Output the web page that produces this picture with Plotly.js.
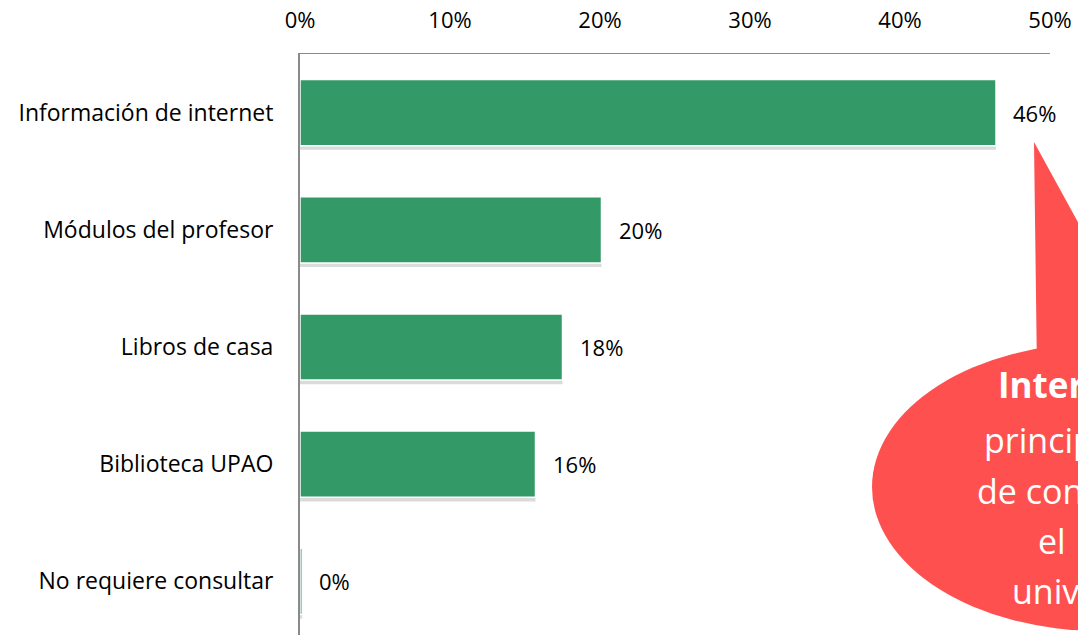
<!DOCTYPE html>
<html>
<head>
<meta charset="utf-8">
<script src="https://cdn.plot.ly/plotly-3.0.1.min.js"></script>
<style>
html,body{margin:0;padding:0;overflow:hidden;background:#fff;}
#chart{width:1078px;height:646px;}
</style>
</head>
<body>
<div id="chart"></div>
<script>
// ---- data ----
const categories = ["Información de internet", "Módulos del profesor", "Libros de casa", "Biblioteca UPAO", "No requiere consultar"];
const values = [46.4, 20.1, 17.5, 15.7, 0.15];
const tickValues = [0, 10, 20, 30, 40, 50];
const tickLabels = ["0%", "10%", "20%", "30%", "40%", "50%"];
const calloutLines = ["<b>Internet es la</b>", "principal fuente", "de consulta para", "el\u00a0\u00a0estudiante", "universitario"];

// ---- layout geometry ----
const W = 1078, H = 646;
const M = {l: 300, r: 28, t: 54, b: 6};
const plotW = W - M.l - M.r, plotH = H - M.t - M.b;
const px = x => (x - M.l) / plotW;
const py = y => 1 - (y - M.t) / plotH;

const FONT = "'Open Sans', 'Noto Sans', sans-serif";
const barWidth = 0.565;

const shadow = {
  type: 'bar', orientation: 'h',
  x: values, y: categories,
  width: barWidth, offset: -barWidth / 2 + 0.035,
  marker: {color: 'rgba(0,0,0,0.14)', line: {width: 0}},
  hoverinfo: 'skip', showlegend: false
};
const bars = {
  type: 'bar', orientation: 'h',
  x: values, y: categories,
  width: barWidth, offset: -barWidth / 2,
  marker: {color: '#339966', line: {color: '#ffffff', width: 1.5}},
  showlegend: false
};

const annotations = categories.map((c, i) => ({
  x: values[i], y: c, xref: 'x', yref: 'y',
  text: Math.round(values[i]) + '%',
  showarrow: false, xanchor: 'left', yanchor: 'middle', xshift: 15,
  font: {family: FONT, size: 22, color: '#000'}
}));

// callout text (left edge and baseline in pixels)
const lineStartPx = [996, 982, 975, 1036, 1010];
const lineBasePx = [397, 452, 503, 553, 603];
calloutLines.forEach((t, i) => {
  const size = i === 0 ? 35 : 34;
  annotations.push({
    x: px(lineStartPx[i]), y: py(lineBasePx[i] - 0.36 * size), xref: 'paper', yref: 'paper',
    text: t, showarrow: false, xanchor: 'left', yanchor: 'middle',
    font: {family: FONT, size: size, color: '#ffffff'}
  });
});

const CALLOUT = '#FF5050';
const shapes = [
  {type: 'circle', xref: 'paper', yref: 'paper',
   x0: px(872), x1: px(1328), y0: py(343), y1: py(631),
   fillcolor: CALLOUT, line: {width: 0}, layer: 'above'},
  {type: 'path', xref: 'paper', yref: 'paper',
   path: `M ${px(1034)} ${py(142)} L ${px(1037)} ${py(372)} L ${px(1160)} ${py(372)} Z`,
   fillcolor: CALLOUT, line: {width: 0}, layer: 'above'}
];

const layout = {
  width: W, height: H,
  margin: M,
  paper_bgcolor: '#fff', plot_bgcolor: '#fff',
  barmode: 'overlay',
  font: {family: FONT, size: 22, color: '#000'},
  xaxis: {
    side: 'top', range: [0, 50], tickmode: 'array', tickvals: tickValues, ticktext: tickLabels,
    showgrid: false, zeroline: false,
    showline: true, linecolor: '#8a8a8a', linewidth: 1.5,
    ticks: 'outside', ticklen: 16, tickcolor: 'rgba(0,0,0,0)',
    tickfont: {family: FONT, size: 22, color: '#000'},
    fixedrange: true
  },
  yaxis: {
    type: 'category', categoryorder: 'array', categoryarray: categories,
    autorange: 'reversed',
    showgrid: false, zeroline: false,
    showline: true, linecolor: '#8a8a8a', linewidth: 2,
    ticks: 'outside', ticklen: 20, tickcolor: 'rgba(0,0,0,0)',
    tickfont: {family: FONT, size: 23, color: '#000'},
    fixedrange: true
  },
  annotations: annotations,
  shapes: shapes
};

Plotly.newPlot('chart', [shadow, bars], layout, {displayModeBar: false, staticPlot: true});
</script>
</body>
</html>
